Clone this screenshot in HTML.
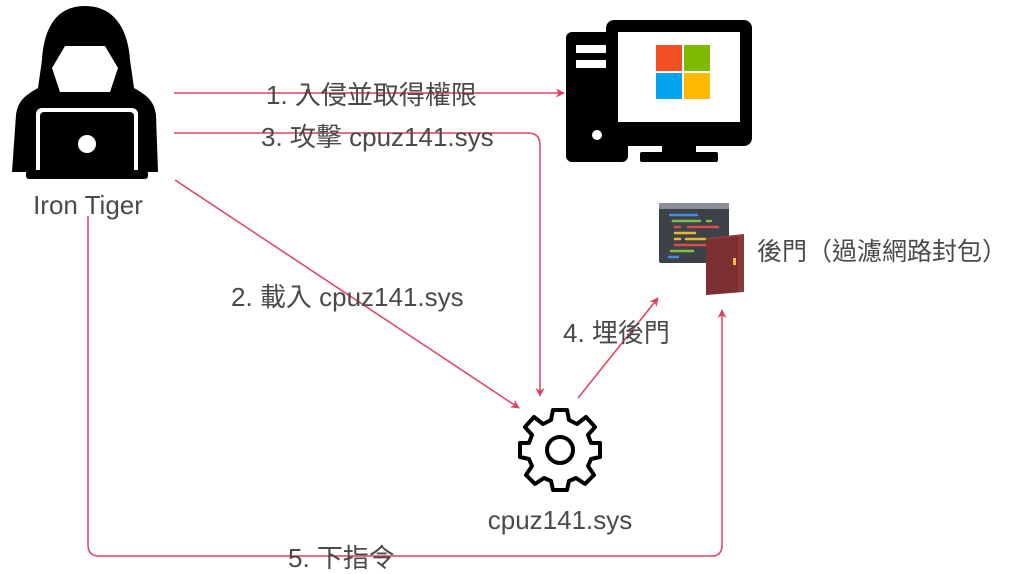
<!DOCTYPE html>
<html><head><meta charset="utf-8"><style>
html,body{margin:0;padding:0;background:#fff;width:1024px;height:574px;overflow:hidden}
svg{display:block}
text{font-family:"Liberation Sans","Noto Sans CJK TC",sans-serif;fill:#4a4a4a}
</style></head><body>
<svg width="1024" height="574" viewBox="0 0 1024 574" xmlns="http://www.w3.org/2000/svg">
<defs>
<marker id="a" viewBox="0 0 10 10" refX="9" refY="5" markerWidth="9" markerHeight="9" orient="auto-start-reverse" markerUnits="userSpaceOnUse">
<path d="M0,0 L10,5 L0,10 L3,5 z" fill="#e0405e"/></marker>
</defs>
<!-- hacker -->
<g fill="#000">
<path d="M85,6 C55,6 44,30 42,60 L38,88 C26,95 18,100 16,115 L12,172 L158,172 L156,115 C154,100 146,95 134,88 L130,60 C128,30 115,6 85,6 z"/>
<path d="M65,46 L105,46 L118,68 L110,92 L60,92 L52,68 z" fill="#fff"/>
<rect x="36" y="108" width="102" height="72" rx="6" fill="#fff"/>
<rect x="40" y="112" width="94" height="64" rx="4"/>
<rect x="26" y="170" width="122" height="9" rx="3"/>
<circle cx="87" cy="144" r="9" fill="#fff"/>
</g>
<text x="88" y="214" font-size="26" text-anchor="middle">Iron Tiger</text>
<!-- computer -->
<g fill="#000">
<rect x="566" y="32" width="62" height="130" rx="6"/>
<rect x="576" y="45" width="42" height="8" fill="#fff"/>
<rect x="576" y="60" width="42" height="8" fill="#fff"/>
<circle cx="597" cy="135" r="5" fill="#fff"/>
<rect x="606" y="20" width="146" height="126" rx="8"/>
<rect x="618" y="32" width="122" height="90" fill="#fff"/>
<rect x="662" y="146" width="34" height="10"/>
<rect x="640" y="152" width="78" height="10" rx="2"/>
</g>
<rect x="656" y="45" width="26" height="26" fill="#f25022"/>
<rect x="684" y="45" width="26" height="26" fill="#7fba00"/>
<rect x="656" y="73" width="26" height="26" fill="#00a4ef"/>
<rect x="684" y="73" width="26" height="26" fill="#ffb900"/>
<!-- backdoor -->
<rect x="659" y="203" width="70" height="60" rx="2" fill="#3d4148"/>
<rect x="659" y="203" width="70" height="6" fill="#8a8e94"/>
<g stroke-width="2.5" stroke-linecap="round">
<line x1="670" y1="215" x2="697" y2="215" stroke="#4a8be0"/>
<line x1="673" y1="221" x2="700" y2="221" stroke="#7cc14a"/>
<line x1="707" y1="221" x2="711" y2="221" stroke="#7cc14a"/>
<line x1="675" y1="227" x2="680" y2="227" stroke="#e04a4a"/>
<line x1="688" y1="227" x2="718" y2="227" stroke="#e04a4a"/>
<line x1="675" y1="233" x2="695" y2="233" stroke="#e8b830"/>
<line x1="675" y1="239" x2="680" y2="239" stroke="#e8b830"/>
<line x1="686" y1="239" x2="705" y2="239" stroke="#e8b830"/>
<line x1="675" y1="245" x2="710" y2="245" stroke="#e04a4a"/>
<line x1="671" y1="251" x2="693" y2="251" stroke="#7cc14a"/>
<line x1="669" y1="257" x2="678" y2="257" stroke="#4a8be0"/>
</g>
<path d="M706,238 L744,234 L744,292 L706,295 z" fill="#8b3a3a"/>
<path d="M706,240 L738,237 L738,292 L706,295 z" fill="#7a2f30"/>
<rect x="733" y="258" width="3" height="7" fill="#f0c040"/>
<text x="757" y="260" font-size="25">後門（過濾網路封包）</text>
<!-- gear -->
<g transform="translate(560,450)" fill="none" stroke="#000" stroke-width="4" stroke-linejoin="round">
<path d="M-7,-40 L7,-40 L9,-30 L17,-26 L26,-33 L35,-23 L28,-15 L31,-7 L40,-7 L40,7 L31,9 L28,16 L34,25 L25,34 L16,28 L9,31 L7,40 L-7,40 L-9,31 L-16,28 L-25,34 L-34,25 L-28,16 L-31,9 L-40,7 L-40,-7 L-31,-7 L-28,-15 L-35,-23 L-26,-33 L-17,-26 L-9,-30 z"/>
<circle r="13"/>
</g>
<text x="560" y="529" font-size="26" text-anchor="middle">cpuz141.sys</text>
<!-- arrows -->
<g stroke="#e0405e" stroke-width="1.5" fill="none">
<line x1="174" y1="93" x2="564" y2="93" marker-end="url(#a)"/>
<path d="M174,133 L528,133 Q540,133 540,145 L540,396" marker-end="url(#a)"/>
<line x1="175" y1="180" x2="519" y2="408" marker-end="url(#a)"/>
<line x1="578" y1="398" x2="658" y2="298" marker-end="url(#a)"/>
<path d="M88,216 L88,545 Q88,556 99,556 L712,556 Q722,556 722,545 L722,310" marker-end="url(#a)"/>
</g>
<g font-size="26">
<text x="266" y="104">1. 入侵並取得權限</text>
<text x="261" y="146">3. 攻擊 cpuz141.sys</text>
<text x="231" y="306">2. 載入 cpuz141.sys</text>
<text x="563" y="342">4. 埋後門</text>
<text x="288" y="567">5. 下指令</text>
</g>
</svg>
</body></html>
